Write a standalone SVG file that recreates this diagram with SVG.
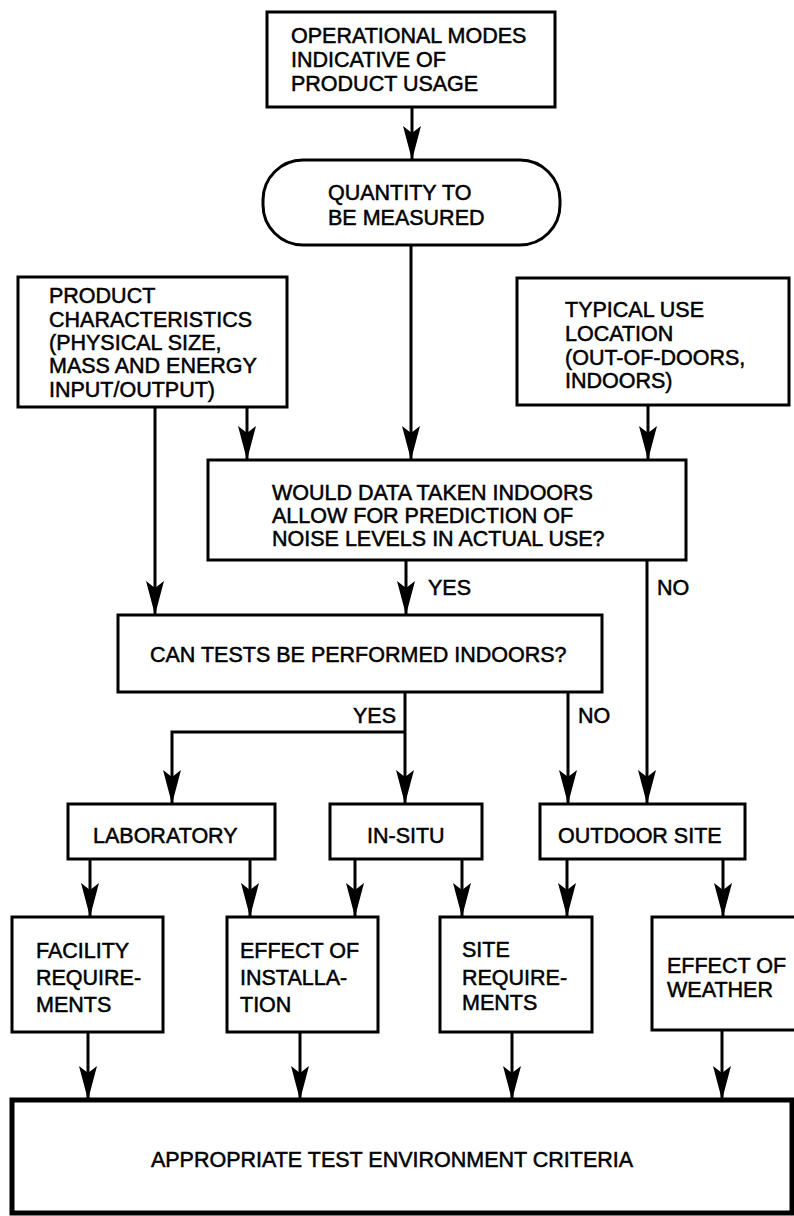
<svg xmlns="http://www.w3.org/2000/svg" width="794" height="1216" viewBox="0 0 794 1216">
<defs>
<style>
.box{fill:#fff;stroke:#000;stroke-width:3}
.big{fill:#fff;stroke:#000;stroke-width:5}
.t{font-family:"Liberation Sans",Arial,sans-serif;font-size:21.5px;fill:#000;stroke:#000;stroke-width:0.5}
.c{fill:none;stroke:#000;stroke-width:3}
.a{marker-end:url(#ah)}
</style>
<marker id="ah" markerUnits="userSpaceOnUse" markerWidth="34" markerHeight="20" viewBox="0 0 34 20" refX="34" refY="10" orient="auto">
<path d="M0,1 L34,10 L0,19 L7,10 Z" fill="#000"/>
</marker>
</defs>
<rect width="794" height="1216" fill="#fff"/>
<g id="connectors">
<line class="c a" x1="412" y1="107" x2="412" y2="160"/>
<line class="c a" x1="411" y1="245" x2="411" y2="460"/>
<line class="c a" x1="247" y1="407" x2="247" y2="460"/>
<line class="c a" x1="155" y1="407" x2="155" y2="615"/>
<line class="c a" x1="648" y1="405" x2="648" y2="460"/>
<line class="c a" x1="406" y1="560" x2="406" y2="615"/>
<line class="c a" x1="647" y1="560" x2="647" y2="804"/>
<line class="c a" x1="405" y1="692" x2="405" y2="804"/>
<polyline class="c a" points="405,732 172,732 172,804"/>
<line class="c a" x1="568" y1="692" x2="568" y2="804"/>
<line class="c a" x1="90" y1="859" x2="90" y2="917"/>
<line class="c a" x1="250" y1="859" x2="250" y2="917"/>
<line class="c a" x1="355" y1="859" x2="355" y2="917"/>
<line class="c a" x1="462" y1="859" x2="462" y2="917"/>
<line class="c a" x1="567" y1="859" x2="567" y2="917"/>
<line class="c a" x1="723" y1="859" x2="723" y2="917"/>
<line class="c a" x1="88" y1="1032" x2="88" y2="1100"/>
<line class="c a" x1="300" y1="1032" x2="300" y2="1100"/>
<line class="c a" x1="512" y1="1032" x2="512" y2="1100"/>
<line class="c a" x1="722" y1="1030" x2="722" y2="1100"/>
<text class="t" x="428" y="595">YES</text>
<text class="t" x="657" y="595">NO</text>
<text class="t" x="353" y="723">YES</text>
<text class="t" x="578" y="723">NO</text>
</g>
<g id="modes">
<rect class="box" x="267" y="12" width="288" height="95"/>
<text class="t" x="291" y="43">OPERATIONAL MODES</text>
<text class="t" x="291" y="67">INDICATIVE OF</text>
<text class="t" x="291" y="91">PRODUCT USAGE</text>
</g>
<g id="quantity">
<rect class="box" x="263" y="160" width="297" height="85" rx="40" ry="40"/>
<text class="t" x="328" y="200">QUANTITY TO</text>
<text class="t" x="328" y="225">BE MEASURED</text>
</g>
<g id="product">
<rect class="box" x="18" y="277" width="269" height="130"/>
<text class="t" x="49" y="303">PRODUCT</text>
<text class="t" x="49" y="327">CHARACTERISTICS</text>
<text class="t" x="49" y="350">(PHYSICAL SIZE,</text>
<text class="t" x="49" y="373">MASS AND ENERGY</text>
<text class="t" x="49" y="397">INPUT/OUTPUT)</text>
</g>
<g id="location">
<rect class="box" x="517" y="278" width="272" height="127"/>
<text class="t" x="565" y="317">TYPICAL USE</text>
<text class="t" x="565" y="341">LOCATION</text>
<text class="t" x="565" y="365">(OUT-OF-DOORS,</text>
<text class="t" x="565" y="388">INDOORS)</text>
</g>
<g id="would">
<rect class="box" x="208" y="460" width="478" height="100"/>
<text class="t" x="272" y="500">WOULD DATA TAKEN INDOORS</text>
<text class="t" x="272" y="523">ALLOW FOR PREDICTION OF</text>
<text class="t" x="272" y="546">NOISE LEVELS IN ACTUAL USE?</text>
</g>
<g id="can">
<rect class="box" x="118" y="615" width="484" height="77"/>
<text class="t" x="150" y="662">CAN TESTS BE PERFORMED INDOORS?</text>
</g>
<g id="laboratory">
<rect class="box" x="68" y="804" width="207" height="55"/>
<text class="t" x="93" y="843">LABORATORY</text>
</g>
<g id="insitu">
<rect class="box" x="330" y="804" width="152" height="55"/>
<text class="t" x="367" y="843">IN-SITU</text>
</g>
<g id="outdoor">
<rect class="box" x="540" y="804" width="205" height="55"/>
<text class="t" x="558" y="843">OUTDOOR SITE</text>
</g>
<g id="facility">
<rect class="box" x="12" y="917" width="151" height="115"/>
<text class="t" x="36" y="958">FACILITY</text>
<text class="t" x="36" y="985">REQUIRE-</text>
<text class="t" x="36" y="1012">MENTS</text>
</g>
<g id="installation">
<rect class="box" x="227" y="917" width="151" height="115"/>
<text class="t" x="240" y="958">EFFECT OF</text>
<text class="t" x="240" y="985">INSTALLA-</text>
<text class="t" x="240" y="1012">TION</text>
</g>
<g id="site">
<rect class="box" x="440" y="917" width="152" height="115"/>
<text class="t" x="462" y="957">SITE</text>
<text class="t" x="462" y="985">REQUIRE-</text>
<text class="t" x="462" y="1010">MENTS</text>
</g>
<g id="weather">
<rect class="box" x="652" y="917" width="150" height="113"/>
<text class="t" x="667" y="973">EFFECT OF</text>
<text class="t" x="667" y="997">WEATHER</text>
</g>
<g id="criteria">
<rect class="big" x="12" y="1100" width="780" height="113"/>
<text class="t" x="392" y="1167" text-anchor="middle">APPROPRIATE TEST ENVIRONMENT CRITERIA</text>
</g>
</svg>
